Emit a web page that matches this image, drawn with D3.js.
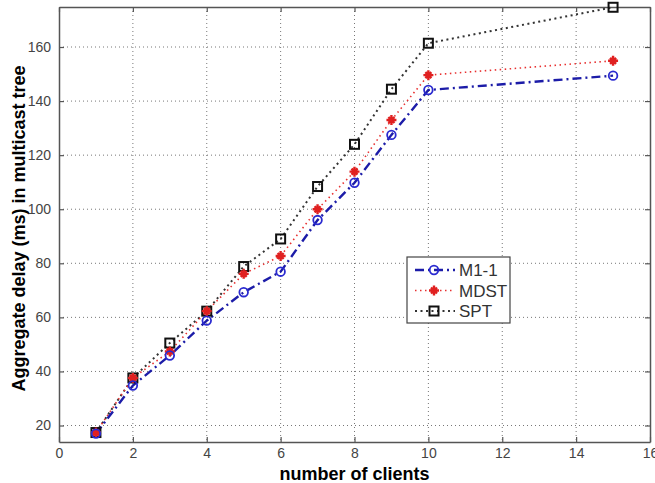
<!DOCTYPE html>
<html>
<head>
<meta charset="utf-8">
<script src="https://cdn.jsdelivr.net/npm/d3@7"></script>
<style>
  body { margin: 0; background: #fff; }
  svg { display: block; font-family: "Liberation Sans", Arial, sans-serif; }
</style>
</head>
<body>
<div id="chart"></div>
<script>
// data
var clients = [1, 2, 3, 4, 5, 6, 7, 8, 9, 10, 15];
var m11  = [17, 34.8, 45.9, 58.8, 69.3, 76.9, 96, 109.8, 127.5, 144.1, 149.4];
var mdst = [17.4, 37.6, 47.4, 62.3, 76.1, 82.7, 100, 113.9, 133, 149.6, 154.9];
var spt  = [17.4, 37.6, 50.5, 62.3, 78.8, 89, 108.4, 124, 144.4, 161.4, 174.7];
var xTicks = [0, 2, 4, 6, 8, 10, 12, 14, 16];
var yTicks = [20, 40, 60, 80, 100, 120, 140, 160];
var seriesNames = ["M1-1", "MDST", "SPT"];

// set the dimensions and margins of the chart
var margin = {top: 7, right: 5, bottom: 41, left: 59},
    W = 655, H = 483,
    width = W - margin.left - margin.right,
    height = H - margin.top - margin.bottom;

var x = d3.scaleLinear().domain([0, 16]).range([0, width]);
var y = d3.scaleLinear().domain([13.9, 174.8]).range([height, 0]);

var svg = d3.select("#chart").append("svg")
    .attr("width", W)
    .attr("height", H),
  g = svg.append("g")
    .attr("transform", "translate(" + margin.left + "," + margin.top + ")");

// dotted grid
g.selectAll(".gx").data(xTicks.slice(1, -1)).enter().append("line")
  .attr("x1", d => x(d)).attr("x2", d => x(d))
  .attr("y1", 0).attr("y2", height)
  .attr("stroke", "#777").attr("stroke-width", 1)
  .attr("stroke-dasharray", "1,3");
g.selectAll(".gy").data(yTicks).enter().append("line")
  .attr("x1", 0).attr("x2", width)
  .attr("y1", d => y(d)).attr("y2", d => y(d))
  .attr("stroke", "#777").attr("stroke-width", 1)
  .attr("stroke-dasharray", "1,3");

// axes, ticks pointing inward on all four sides
var tickCol = "#555";
var xb = g.append("g").attr("transform", "translate(0," + height + ")")
  .call(d3.axisBottom(x).tickValues(xTicks).tickSizeInner(-5).tickSizeOuter(0).tickPadding(6));
var yl = g.append("g")
  .call(d3.axisLeft(y).tickValues(yTicks).tickSizeInner(-5).tickSizeOuter(0).tickPadding(8));
var xt = g.append("g")
  .call(d3.axisTop(x).tickValues(xTicks).tickSizeInner(-5).tickSizeOuter(0).tickFormat(""));
var yr = g.append("g").attr("transform", "translate(" + width + ",0)")
  .call(d3.axisRight(y).tickValues(yTicks).tickSizeInner(-5).tickSizeOuter(0).tickFormat(""));

[xb, yl, xt, yr].forEach(function(a) {
  a.select(".domain").attr("stroke", tickCol).attr("stroke-width", 1.5);
  a.selectAll(".tick line").attr("stroke", tickCol).attr("stroke-width", 1.2);
  a.selectAll("text").attr("fill", "#444").style("font-size", "14px");
});

// lines
var line = d3.line()
  .x(function(d) { return x(d[0]); })
  .y(function(d) { return y(d[1]); });

function pairs(vals) { return clients.map(function(c, i) { return [c, vals[i]]; }); }

var styles = [
  {vals: m11,  color: "#1c1ca8", width: 2.4, dash: "9,4,2,4", marker: "circle"},
  {vals: mdst, color: "#e83030", width: 1.6, dash: "1.5,3.5", marker: "star"},
  {vals: spt,  color: "#333",    width: 2,   dash: "2,3.5",   marker: "square"}
];

// draw from back to front so the blue line ends on top, like the picture
styles.slice().reverse().forEach(function(s) {
  g.append("path")
    .datum(pairs(s.vals))
    .attr("fill", "none")
    .attr("stroke", s.color)
    .attr("stroke-width", s.width)
    .attr("stroke-dasharray", s.dash)
    .attr("d", line);
});

function drawMarker(sel, type, cx, cy) {
  if (type === "circle") {
    sel.append("circle").attr("cx", cx).attr("cy", cy).attr("r", 4.3)
      .attr("fill", "none").attr("stroke", "#2a2ad0").attr("stroke-width", 1.8);
  } else if (type === "square") {
    sel.append("rect").attr("x", cx - 4.5).attr("y", cy - 4.5)
      .attr("width", 9).attr("height", 9)
      .attr("fill", "none").attr("stroke", "#111").attr("stroke-width", 2);
  } else {
    sel.append("path")
      .attr("d", "M" + (cx - 5) + "," + cy + "H" + (cx + 5) + "M" + cx + "," + (cy - 5) + "V" + (cy + 5) +
        "M" + (cx - 3) + "," + (cy - 3) + "L" + (cx + 3) + "," + (cy + 3) +
        "M" + (cx - 3) + "," + (cy + 3) + "L" + (cx + 3) + "," + (cy - 3))
      .attr("stroke", "#e02020").attr("stroke-width", 2.4).attr("fill", "none");
  }
}

styles.slice().reverse().forEach(function(s) {
  var mg = g.append("g");
  pairs(s.vals).forEach(function(p) { drawMarker(mg, s.marker, x(p[0]), y(p[1])); });
});

// legend
var lg = svg.append("g").attr("transform", "translate(407,257)");
lg.append("rect").attr("width", 103).attr("height", 66)
  .attr("fill", "#fff").attr("stroke", "#444").attr("stroke-width", 1.2);
seriesNames.forEach(function(name, i) {
  var s = styles[i], ly = 13 + i * 20.5;
  lg.append("line").attr("x1", 8).attr("x2", 48).attr("y1", ly).attr("y2", ly)
    .attr("stroke", s.color).attr("stroke-width", s.width).attr("stroke-dasharray", s.dash);
  drawMarker(lg, s.marker, 27, ly);
  lg.append("text").attr("x", 52).attr("y", ly + 6).text(name)
    .attr("fill", "#333").style("font-size", "17px");
});

// axis labels
svg.append("text")
  .attr("x", margin.left + width / 2).attr("y", 480)
  .attr("text-anchor", "middle")
  .style("font-size", "18px").style("font-weight", "bold")
  .text("number of clients");
svg.append("text")
  .attr("transform", "translate(25," + (margin.top + height / 2 + 4) + ") rotate(-90)")
  .attr("text-anchor", "middle")
  .style("font-size", "18px").style("font-weight", "bold")
  .text("Aggregate delay (ms) in multicast tree");
</script>
</body>
</html>
